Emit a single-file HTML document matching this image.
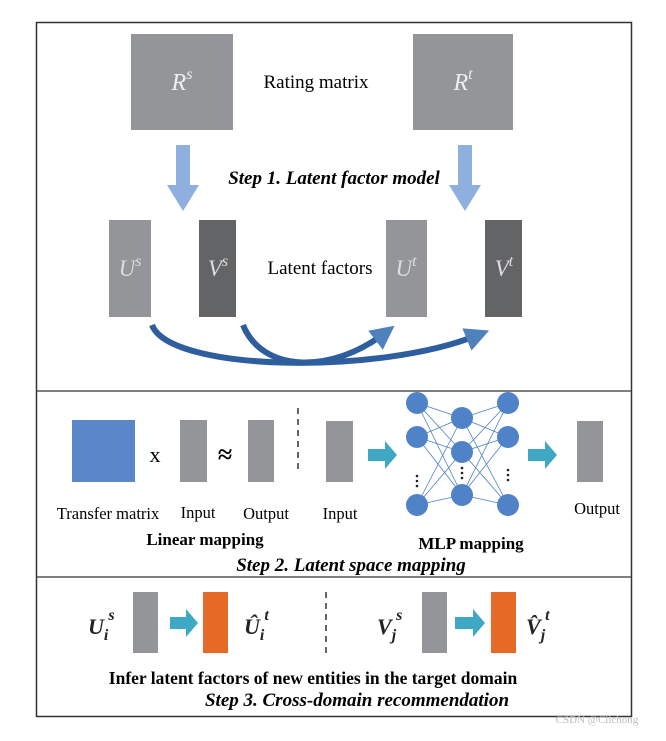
<!DOCTYPE html>
<html><head><meta charset="utf-8"><style>
body{margin:0;background:#fff;}
svg text{font-family:"Liberation Serif",serif;}
</style></head><body>
<svg width="666" height="736" viewBox="0 0 666 736" xmlns="http://www.w3.org/2000/svg">
<defs>
<marker id="ah" markerWidth="4" markerHeight="4" refX="2" refY="2" orient="auto" markerUnits="strokeWidth"><path d="M0,0 L4,2 L0,4 Z" fill="#4f81bd"/></marker>
</defs>
<rect x="36.5" y="22.5" width="595" height="694" fill="none" stroke="#333" stroke-width="1.5"/>
<line x1="37" y1="391" x2="631" y2="391" stroke="#555" stroke-width="1.5"/>
<line x1="37" y1="577" x2="631" y2="577" stroke="#555" stroke-width="1.5"/>
<!-- Step 1 -->
<rect x="131" y="34" width="102" height="96" fill="#939598"/>
<rect x="413" y="34" width="100" height="96" fill="#939598"/>
<text x="182" y="90" fill="#eee" font-size="24" font-style="italic" text-anchor="middle">R<tspan dy="-11" font-size="16">s</tspan></text>
<text x="463" y="90" fill="#eee" font-size="24" font-style="italic" text-anchor="middle">R<tspan dy="-11" font-size="16">t</tspan></text>
<text x="316" y="88" font-size="19" text-anchor="middle">Rating matrix</text>
<path d="M176,145 h14 v40 h9 l-16,26 l-16,-26 h9 z" fill="#8fb0de"/>
<path d="M458,145 h14 v40 h9 l-16,26 l-16,-26 h9 z" fill="#8fb0de"/>
<text x="334" y="184" font-size="19" font-weight="bold" font-style="italic" text-anchor="middle">Step 1. Latent factor model</text>
<rect x="109" y="220" width="42" height="97" fill="#939598"/>
<rect x="199" y="220" width="37" height="97" fill="#636466"/>
<rect x="386" y="220" width="41" height="97" fill="#939598"/>
<rect x="485" y="220" width="37" height="97" fill="#636466"/>
<text x="130" y="276" fill="#ddd" font-size="23" font-style="italic" text-anchor="middle">U<tspan dy="-10" font-size="16">s</tspan></text>
<text x="218" y="276" fill="#ddd" font-size="23" font-style="italic" text-anchor="middle">V<tspan dy="-10" font-size="16">s</tspan></text>
<text x="406" y="276" fill="#ddd" font-size="23" font-style="italic" text-anchor="middle">U<tspan dy="-10" font-size="16">t</tspan></text>
<text x="504" y="276" fill="#ddd" font-size="23" font-style="italic" text-anchor="middle">V<tspan dy="-10" font-size="16">t</tspan></text>
<text x="320" y="274" font-size="19" text-anchor="middle">Latent factors</text>
<path d="M152,325 C170,372 380,375 478,335" fill="none" stroke="#2f5e9e" stroke-width="6" marker-end="url(#ah)"/>
<path d="M243,325 C262,372 330,375 385,333" fill="none" stroke="#2f5e9e" stroke-width="6" marker-end="url(#ah)"/>
<!-- Step 2 -->
<rect x="72" y="420" width="63" height="62" fill="#5b87c9"/>
<text x="155" y="462" font-size="22" font-family="Liberation Sans" text-anchor="middle">x</text>
<rect x="180" y="420" width="27" height="62" fill="#939598"/>
<text x="225" y="463" font-size="26" font-weight="bold" text-anchor="middle">≈</text>
<rect x="248" y="420" width="26" height="62" fill="#939598"/>
<line x1="298" y1="408" x2="298" y2="472" stroke="#333" stroke-width="1.5" stroke-dasharray="6,5"/>
<text x="108" y="519" font-size="16.5" text-anchor="middle">Transfer matrix</text>
<text x="198" y="518" font-size="16.5" text-anchor="middle">Input</text>
<text x="266" y="519" font-size="16.5" text-anchor="middle">Output</text>
<text x="340" y="519" font-size="16.5" text-anchor="middle">Input</text>
<text x="597" y="514" font-size="16.5" text-anchor="middle">Output</text>
<text x="205" y="545" font-size="17" font-weight="bold" text-anchor="middle">Linear mapping</text>
<text x="471" y="549" font-size="17" font-weight="bold" text-anchor="middle">MLP mapping</text>
<text x="351" y="571" font-size="19" font-weight="bold" font-style="italic" text-anchor="middle">Step 2. Latent space mapping</text>
<rect x="326" y="421" width="27" height="61" fill="#939598"/>
<rect x="577" y="421" width="26" height="61" fill="#939598"/>
<path d="M368,449 h17 v-8 l12,14 l-12,14 v-8 h-17 z" fill="#3fa8c4"/>
<path d="M528,449 h17 v-8 l12,14 l-12,14 v-8 h-17 z" fill="#3fa8c4"/>
<g stroke="#4a7fc4" stroke-width="0.8">
<path d="M417,403L462,418M417,403L462,452M417,403L462,495M417,437L462,418M417,437L462,452M417,437L462,495M417,505L462,418M417,505L462,452M417,505L462,495M462,418L508,403M462,418L508,437M462,418L508,505M462,452L508,403M462,452L508,437M462,452L508,505M462,495L508,403M462,495L508,437M462,495L508,505"/>
</g>
<g fill="#4f82c6">
<circle cx="417" cy="403" r="11"/><circle cx="417" cy="437" r="11"/><circle cx="417" cy="505" r="11"/>
<circle cx="462" cy="418" r="11"/><circle cx="462" cy="452" r="11"/><circle cx="462" cy="495" r="11"/>
<circle cx="508" cy="403" r="11"/><circle cx="508" cy="437" r="11"/><circle cx="508" cy="505" r="11"/>
</g>
<g fill="#222"><circle cx="417" cy="476" r="1.3"/><circle cx="417" cy="481" r="1.3"/><circle cx="417" cy="486" r="1.3"/>
<circle cx="462" cy="468" r="1.3"/><circle cx="462" cy="473" r="1.3"/><circle cx="462" cy="478" r="1.3"/>
<circle cx="508" cy="470" r="1.3"/><circle cx="508" cy="475" r="1.3"/><circle cx="508" cy="480" r="1.3"/></g>
<!-- Step 3 -->
<rect x="133" y="592" width="25" height="61" fill="#939598"/>
<rect x="203" y="592" width="25" height="61" fill="#e46a25"/>
<rect x="422" y="592" width="25" height="61" fill="#939598"/>
<rect x="491" y="592" width="25" height="61" fill="#e46a25"/>
<path d="M170,617 h16 v-8 l12,14 l-12,14 v-8 h-16 z" fill="#3fa8c4"/>
<path d="M455,617 h18 v-8 l12,14 l-12,14 v-8 h-18 z" fill="#3fa8c4"/>
<line x1="326" y1="592" x2="326" y2="657" stroke="#333" stroke-width="1.5" stroke-dasharray="6,5"/>
<g font-family="Liberation Sans" font-weight="bold" font-style="italic" font-size="22" fill="#222">
<text x="88" y="634">U<tspan dy="6" font-size="16">i</tspan><tspan dy="-20" font-size="16">s</tspan></text>
<text x="244" y="634">Û<tspan dy="6" font-size="16">i</tspan><tspan dy="-20" font-size="16">t</tspan></text>
<text x="377" y="634">V<tspan dy="6" font-size="16">j</tspan><tspan dy="-20" font-size="16">s</tspan></text>
<text x="526" y="634">V̂<tspan dy="6" font-size="16">j</tspan><tspan dy="-20" font-size="16">t</tspan></text>
</g>
<text x="313" y="684" font-size="17.5" font-weight="bold" text-anchor="middle">Infer latent factors of new entities in the target domain</text>
<text x="357" y="706" font-size="19" font-weight="bold" font-style="italic" text-anchor="middle">Step 3.  Cross-domain recommendation</text>
<text x="597" y="723" font-size="11" fill="#bbb" font-family="Liberation Sans" text-anchor="middle">CSDN @Clichong</text>
</svg>
</body></html>
